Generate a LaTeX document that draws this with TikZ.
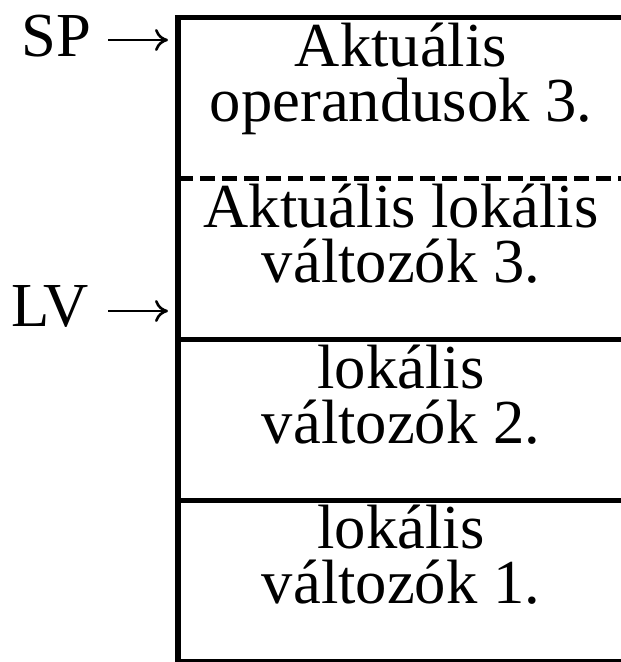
\documentclass[tikz,border=0pt]{standalone}
\usepackage{fontspec}
\setmainfont{Liberation Serif}
\usetikzlibrary{arrows.meta}
\begin{document}
\begin{tikzpicture}[x=1pt,y=-1pt,
  rule/.style={line width=5pt},
  wall/.style={line width=6.5pt},
  dashrule/.style={line width=5pt,dash pattern=on 15pt off 7pt},
  big/.style={inner sep=0pt,font=\fontsize{62.6}{55}\selectfont},
  frametext/.style={big,align=center,anchor=base},
  lbl/.style={big,anchor=base west},
  ptr/.style={line width=2.6pt,-{To[length=13pt,width=22pt]}}]
  \useasboundingbox (0,0) rectangle (621,662);

  % stack frame boundaries
  \coordinate (t0) at (178,17);
  \coordinate (t1) at (178,178);
  \coordinate (t2) at (178,339);
  \coordinate (t3) at (178,500);
  \coordinate (t4) at (178,661);
  \coordinate (e0) at (630,17);
  \coordinate (e1) at (630,178);
  \coordinate (e2) at (630,339);
  \coordinate (e3) at (630,500);
  \coordinate (e4) at (630,661);
  \coordinate (wb) at (178,670);

  \draw[wall] (t0) -- (wb);
  \draw[rule] ([xshift=-3.25pt]t0) -- (e0);
  \draw[dashrule] (t1) -- (e1);
  \draw[rule] (t2) -- (e2);
  \draw[rule] (t3) -- (e3);
  \draw[rule] (t4) -- (e4);

  % frame contents
  \node[frametext] (fa) at (401,121) {Aktuális\\operandusok 3.};
  \node[frametext] (fb) at (401,282) {Aktuális lokális\\változók 3.};
  \node[frametext] (fc) at (401,443) {lokális\\változók 2.};
  \node[frametext] (fd) at (401,603) {lokális\\változók 1.};

  % pointer registers
  \node[lbl] (sp) at (21,56)  {SP};
  \node[lbl] (lv) at (11,326) {LV};
  \coordinate (spa) at (108,40);
  \coordinate (spb) at (168,40);
  \coordinate (lva) at (108,311);
  \coordinate (lvb) at (168,311);
  \draw[ptr] (spa) -- (spb);
  \draw[ptr] (lva) -- (lvb);
\end{tikzpicture}
\end{document}
